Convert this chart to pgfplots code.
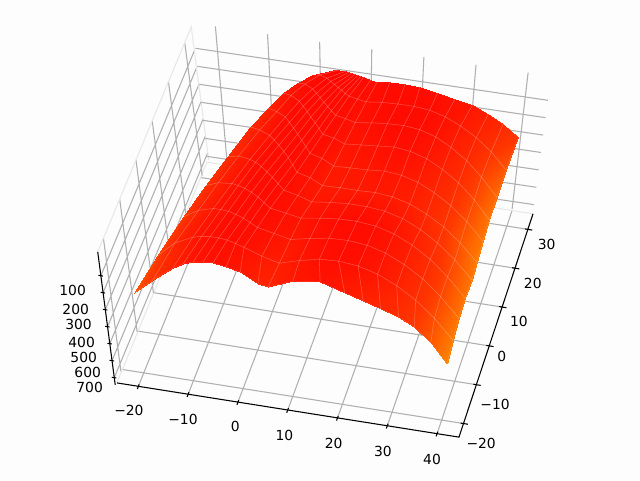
\documentclass[border=0pt]{standalone}
\usepackage{pgfplots}
\usepackage{pgfplotstable}
\usepackage{fontspec}
\setmainfont{DejaVu Sans}
\pgfplotsset{compat=1.18}
\definecolor{gridc}{HTML}{B0B0B0}
\definecolor{panec}{HTML}{E8E8E8}
\definecolor{bgc}{HTML}{FDFDFD}
\pgfplotstableread{
x y z
-22.8 -20 281
-19.2 -20 186
-15.3 -20 94
-13.3 -20 60
-11.3 -20 39
-9.3 -20 29
-7.3 -20 26
-4.6 -20 37
-1.7 -20 53
2 -20 107
4.1 -20 115
9 -20 56
14.5 -20 35
19.6 -20 77
23.4 -20 107
27 -20 138
30.7 -20 168
34 -20 212
37.5 -20 292
41.06 -20 401
-20.5 -12.2 230
-16.9 -12.8 120
-13.2 -13.3 55
-11.4 -13.6 35
-9.6 -13.9 20
-7.8 -14.1 15
-6 -14.4 12
-4.2 -14.7 17
-2.4 -15 25
1.3 -15 60
4.9 -15 85
8.9 -15 50
12.9 -15 22
16.8 -15 15
20.8 -15 25
24.8 -15 55
28.8 -15 105
32.8 -15 173
36.8 -15 263
40.75 -15 375
-17.9 -2.9 200
-14.5 -4.3 110
-11.2 -5.7 50
-9.5 -6.5 30
-7.8 -7.2 15
-6.1 -7.9 10
-4.4 -8.6 8
-2.8 -9.3 10
-1.1 -10 15
2.3 -10 35
5.7 -10 55
9.6 -10 30
13.4 -10 10
17.3 -10 5
21.2 -10 15
25 -10 44
28.9 -10 94
32.8 -10 161
36.6 -10 250
40.5 -10 360
-15.6 4.8 180
-12.5 2.8 100
-9.3 0.9 45
-7.8 -0.1 26
-6.2 -1.1 12
-4.6 -2 7
-3 -3 5
-1.5 -4 7
0.1 -5 10
3.3 -5 25
6.4 -5 40
10.2 -5 22
14 -5 8
17.7 -5 5
21.5 -5 15
25.3 -5 44
29.1 -5 93
32.9 -5 160
36.6 -5 248
40.4 -5 357
-13.2 11.9 160
-10.3 9.5 85
-7.4 7.1 35
-6 6 20
-4.5 4.8 10
-3 3.6 7
-1.6 2.4 5
-0.1 1.2 8
1.4 0 12
4.3 0 30
7.2 0 55
10.9 0 40
14.6 0 30
18.3 0 30
22 0 39
25.7 0 67
29.4 0 114
33 0 178
36.7 0 262
40.4 0 366
-10.5 18.9 130
-7.9 16.1 70
-5.2 13.3 25
-3.9 12 15
-2.6 10.6 8
-1.2 9.2 6
0.1 7.8 5
1.4 6.4 9
2.7 5 15
5.4 5 35
8 5 70
11.6 5 65
15.1 5 65
18.7 5 60
22.2 5 69
25.8 5 95
29.3 5 139
32.9 5 199
36.4 5 278
40 5 376
-8.1 23 100
-5.7 20.4 50
-3.3 17.8 10
-2.1 16.5 7
-0.9 15.2 5
0.3 13.9 5
1.5 12.6 5
2.7 11.3 8
3.9 10 12
6.4 10 30
8.8 10 65
12.2 10 60
15.7 10 55
19.1 10 45
22.6 10 54
26 10 80
29.4 10 126
32.9 10 187
36.3 10 267
39.8 10 367
-6.1 26.4 80
-3.9 24.1 30
-1.6 21.8 0
-0.5 20.7 0
0.6 19.6 0
1.7 18.4 1
2.9 17.3 3
4 16.1 5
5.1 15 8
7.4 15 20
9.6 15 45
12.9 15 35
16.3 15 25
19.6 15 15
22.9 15 25
26.3 15 53
29.6 15 101
33 15 166
36.4 15 252
39.7 15 358
-3.8 28.2 50
-1.8 26.6 10
0.2 24.9 -10
1.2 24.1 -8
2.2 23.3 -5
3.2 22.4 -3
4.2 21.6 0
5.2 20.8 2
6.3 20 5
8.3 20 15
10.3 20 30
13.6 20 15
16.8 20 5
20.1 20 0
23.4 20 9
26.7 20 37
29.9 20 84
33.2 20 148
36.4 20 232
39.7 20 336
-1.2 29.5 20
0.6 28.6 -10
2.3 27.7 -20
3.2 27.2 -16
4.1 26.8 -12
5 26.3 -9
5.8 25.9 -6
6.7 25.4 -3
7.6 25 0
9.3 25 10
11.1 25 18
14.3 25 5
17.5 25 0
20.8 25 -2
24 25 6
27.2 25 30
30.4 25 70
33.7 25 124
36.9 25 195
40.1 25 288
2.8 30.3 -10
4.1 30 -24
5.6 30 -25
6.2 30 -21
6.8 30 -18
7.4 30 -15
8 30 -12
8.6 30 -9
9.2 30 -6
10.6 30 5
11.9 30 11
14.5 30 -2
17.6 30 -5
20.6 30 -1
24.2 30 18
27.8 30 37
31.4 30 56
34.7 30 94
37.8 30 139
41 30 202
}\surfdata
\pgfplotsset{wall/.style={hide axis,clip=false,no markers,unbounded coords=jump,
  xmin=-24.3,xmax=44.4,ymin=-23.5,ymax=34,zmin=-40,zmax=743}}
\begin{document}
\begin{tikzpicture}
\useasboundingbox (0,0) rectangle (480pt,360pt);
\fill[bgc] (0,0) rectangle (480pt,360pt);
% floor
\begin{axis}[wall,at={(210.15pt,218.85pt)},anchor=origin,
  x={(3.6465pt,-0.578pt)},y={(1.0695pt,2.896pt)},z={(-0.00765pt,-0.1245pt)}]
\addplot3[gridc,line width=0.8pt,forget plot] coordinates {
(-20.72,-23.5,743) (-19.28,34,743) (nan,nan,nan)
(-10.48,-23.5,743) (-9.52,34,743) (nan,nan,nan)
(-0.24,-23.5,743) (0.24,34,743) (nan,nan,nan)
(10,-23.5,743) (10,34,743) (nan,nan,nan)
(20.24,-23.5,743) (19.76,34,743) (nan,nan,nan)
(30.48,-23.5,743) (29.52,34,743) (nan,nan,nan)
(40.72,-23.5,743) (39.28,34,743) (nan,nan,nan)
(-25.02,-20,743) (45.12,-20,743) (nan,nan,nan)
(-24.73,-10,743) (44.83,-10,743) (nan,nan,nan)
(-24.45,0,743) (44.55,0,743) (nan,nan,nan)
(-24.16,10,743) (44.26,10,743) (nan,nan,nan)
(-23.88,20,743) (43.98,20,743) (nan,nan,nan)
(-23.59,30,743) (43.69,30,743)
};
\addplot3[panec,line width=0.8pt,forget plot] coordinates {(-25.12,-23.5,743) (-23.48,34,743) (43.58,34,743)};
\addplot3[black,line width=0.8pt,forget plot] coordinates {(-25.12,-23.5,743) (45.22,-23.5,743) (43.58,34,743)};
\addplot3[black,line width=0.8pt,forget plot] coordinates {
(-20.72,-24.2,743) (-20.72,-23,743) (nan,nan,nan)
(-10.48,-24.2,743) (-10.48,-23,743) (nan,nan,nan)
(-0.24,-24.2,743) (-0.24,-23,743) (nan,nan,nan)
(10,-24.2,743) (10,-23,743) (nan,nan,nan)
(20.24,-24.2,743) (20.24,-23,743) (nan,nan,nan)
(30.48,-24.2,743) (30.48,-23,743) (nan,nan,nan)
(40.72,-24.2,743) (40.72,-23,743) (nan,nan,nan)
(44.52,-20,743) (46.02,-20,743) (nan,nan,nan)
(44.23,-10,743) (45.73,-10,743) (nan,nan,nan)
(43.95,0,743) (45.45,0,743) (nan,nan,nan)
(43.66,10,743) (45.16,10,743) (nan,nan,nan)
(43.38,20,743) (44.88,20,743) (nan,nan,nan)
(43.09,30,743) (44.59,30,743)
};
\end{axis}
% left wall
\begin{axis}[wall,at={(192.3pt,220.35pt)},anchor=origin,
  x={(3.69pt,-0.6pt)},y={(1.2195pt,2.935pt)},z={(0.01676pt,-0.12743pt)}]
\addplot3[gridc,line width=0.8pt,forget plot] coordinates {
(-24.3,-20,743) (-24.3,-20,-40) (nan,nan,nan)
(-24.3,-10,743) (-24.3,-10,-40) (nan,nan,nan)
(-24.3,0,743) (-24.3,0,-40) (nan,nan,nan)
(-24.3,10,743) (-24.3,10,-40) (nan,nan,nan)
(-24.3,20,743) (-24.3,20,-40) (nan,nan,nan)
(-24.3,30,743) (-24.3,30,-40) (nan,nan,nan)
(-24.3,-23.5,100) (-24.3,34,100) (nan,nan,nan)
(-24.3,-23.5,200) (-24.3,34,200) (nan,nan,nan)
(-24.3,-23.5,300) (-24.3,34,300) (nan,nan,nan)
(-24.3,-23.5,400) (-24.3,34,400) (nan,nan,nan)
(-24.3,-23.5,500) (-24.3,34,500) (nan,nan,nan)
(-24.3,-23.5,600) (-24.3,34,600) (nan,nan,nan)
(-24.3,-23.5,700) (-24.3,34,700)
};
\addplot3[panec,line width=0.8pt,forget plot] coordinates {(-24.3,-23.5,-40) (-24.3,34,-40) (-24.3,34,743)};
\addplot3[black,line width=0.8pt,forget plot] coordinates {(-24.3,-23.5,743) (-24.3,-23.5,-40)};
\addplot3[black,line width=0.8pt,forget plot] coordinates {
(-24.8,-23.5,100) (-23.9,-23.5,100) (nan,nan,nan)
(-24.8,-23.5,200) (-23.9,-23.5,200) (nan,nan,nan)
(-24.8,-23.5,300) (-23.9,-23.5,300) (nan,nan,nan)
(-24.8,-23.5,400) (-23.9,-23.5,400) (nan,nan,nan)
(-24.8,-23.5,500) (-23.9,-23.5,500) (nan,nan,nan)
(-24.8,-23.5,600) (-23.9,-23.5,600) (nan,nan,nan)
(-24.8,-23.5,700) (-23.9,-23.5,700)
};
\tikzset{zl/.style={anchor=east,font=\fontsize{10.4}{12}\selectfont}}
\node[zl,xshift=-7.7pt,yshift=-11.4pt] at (axis cs:-24.3,-23.5,100) {100};
\node[zl,xshift=-7.1pt,yshift=-12.2pt] at (axis cs:-24.3,-23.5,200) {200};
\node[zl,xshift=-6.6pt,yshift=-11.4pt] at (axis cs:-24.3,-23.5,300) {300};
\node[zl,xshift=-6pt,yshift=-11.5pt] at (axis cs:-24.3,-23.5,400) {400};
\node[zl,xshift=-6.1pt,yshift=-10pt] at (axis cs:-24.3,-23.5,500) {500};
\node[zl,xshift=-4.8pt,yshift=-9.2pt] at (axis cs:-24.3,-23.5,600) {600};
\node[zl,xshift=-5pt,yshift=-7.7pt] at (axis cs:-24.3,-23.5,700) {700};
\end{axis}
% back wall
\begin{axis}[wall,at={(205.95pt,224.175pt)},anchor=origin,
  x={(3.7335pt,-0.551pt)},y={(1.043pt,2.909pt)},z={(-0.00191pt,-0.13268pt)}]
\addplot3[gridc,line width=0.8pt,forget plot] coordinates {
(-18.59,34,743) (-21.41,34,-40) (nan,nan,nan)
(-9.06,34,743) (-10.94,34,-40) (nan,nan,nan)
(0.47,34,743) (-0.47,34,-40) (nan,nan,nan)
(10,34,743) (10,34,-40) (nan,nan,nan)
(19.53,34,743) (20.47,34,-40) (nan,nan,nan)
(29.06,34,743) (30.94,34,-40) (nan,nan,nan)
(38.59,34,743) (41.41,34,-40) (nan,nan,nan)
(-25.34,34,100) (45.44,34,100) (nan,nan,nan)
(-24.92,34,200) (45.02,34,200) (nan,nan,nan)
(-24.51,34,300) (44.61,34,300) (nan,nan,nan)
(-24.1,34,400) (44.2,34,400) (nan,nan,nan)
(-23.69,34,500) (43.79,34,500) (nan,nan,nan)
(-23.28,34,600) (43.38,34,600) (nan,nan,nan)
(-22.87,34,700) (42.97,34,700)
};
\end{axis}
% surface and tick labels
\begin{axis}[
  at={(207.7pt,219.75pt)},anchor=origin,
  x={(-3.69pt,0.60pt)},y={(-1.043pt,-2.909pt)},z={(0.00765pt,0.1245pt)},
  x dir=reverse,y dir=reverse,z dir=reverse,
  xmin=-24.3,xmax=44.4,ymin=-23.5,ymax=34,zmin=-40,zmax=743,
  clip=false,
  xtick={-20,-10,...,40},ytick={-20,-10,...,30},ztick=\empty,
  xticklabels={\kern-12pt −20,\kern-4.5pt −10,0,10,20,30,40},
  yticklabels={−20,−10,0,10,20,30},
  axis line style={draw=none},
  major tick length=0pt,
  ticklabel style={font=\fontsize{10.4}{12}\selectfont},
  xticklabel style={xshift=0.75pt,yshift=-10.5pt},
  yticklabel style={xshift=4pt,yshift=0pt},
  colormap={aut}{rgb255(0cm)=(255,5,0) rgb255(5.5cm)=(255,55,0) rgb255(10cm)=(255,135,0)},
  point meta min=-30,point meta max=405,
]
\addplot3[surf,shader=interp,mesh/cols=20,mesh/rows=11,mesh/ordering=x varies,forget plot] table[x=x,y=y,z=z] {\surfdata};
\addplot3[mesh,draw=white,opacity=0.14,line width=0.4pt,mesh/cols=20,mesh/rows=11,mesh/ordering=x varies,forget plot] table[x=x,y=y,z=z] {\surfdata};
\end{axis}
\end{tikzpicture}
\end{document}
